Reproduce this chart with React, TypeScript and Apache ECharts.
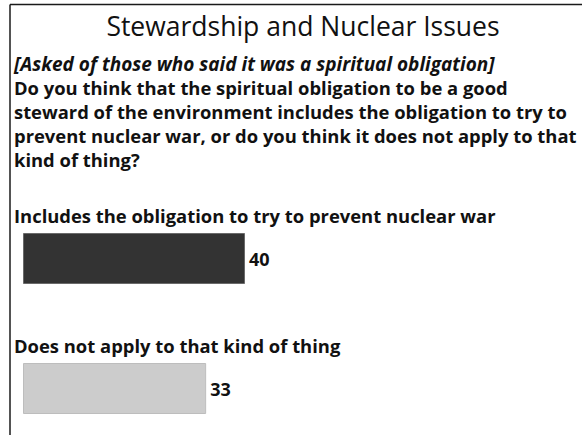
import React, { useEffect, useRef } from "react";
import * as echarts from "echarts";

const categories = [
  "Includes the obligation to try to prevent nuclear war",
  "Does not apply to that kind of thing",
];
const values = [40, 33];
const barColors = ["#333333", "#cccccc"];
const barBorders = ["#6a6a6a", "#bdbdbd"];

const titleText = "Stewardship and Nuclear Issues";
const noteText = "[Asked of those who said it was a spiritual obligation]";
const questionLines = [
  "Do you think that the spiritual obligation to be a good",
  "steward of the environment includes the obligation to try to",
  "prevent nuclear war, or do you think it does not apply to that",
  "kind of thing?",
];

const FONT = "'Open Sans', Lato, sans-serif";
const BODY = 18.4;

export default function App() {
  const ref = useRef<HTMLDivElement>(null);
  useEffect(() => {
    if (!ref.current) return;
    const chart = echarts.init(ref.current, null, { renderer: "svg" });
    chart.setOption({
      animation: false,
      backgroundColor: "#ffffff",
      title: {
        text: titleText,
        left: 298,
        top: 7,
        textAlign: "center",
        textStyle: {
          fontFamily: FONT,
          fontSize: 26.5,
          fontWeight: 500,
          color: "#111111",
        },
      },
      graphic: [
        {
          type: "line",
          shape: { x1: 10, y1: 4.5, x2: 582, y2: 4.5 },
          style: { stroke: "#1a1a1a", lineWidth: 1.5 },
        },
        {
          type: "line",
          shape: { x1: 10, y1: 4.5, x2: 10, y2: 435 },
          style: { stroke: "#1a1a1a", lineWidth: 1.5 },
        },
        {
          type: "text",
          x: 14,
          y: 71 - 0.39 * 19,
          style: {
            text: noteText,
            fontFamily: FONT,
            fontSize: 19,
            fontStyle: "italic",
            fontWeight: "bold",
            fill: "#111111",
            verticalAlign: "middle",
          },
        },
        ...questionLines.map((line, i) => ({
          type: "text",
          x: 14,
          y: 95 + i * 24 - 0.39 * BODY,
          style: {
            text: line,
            fontFamily: FONT,
            fontSize: BODY,
            fontWeight: "bold",
            fill: "#111111",
            verticalAlign: "middle",
          },
        })),
      ],
      grid: {
        left: 23,
        top: 258.5,
        width: 555,
        height: 130,
        containLabel: false,
        outerBoundsMode: "none",
      },
      xAxis: { type: "value", min: 0, max: 100, show: false },
      yAxis: {
        type: "category",
        data: categories,
        inverse: true,
        boundaryGap: false,
        axisLine: { show: false },
        axisTick: { show: false },
        splitLine: { show: false },
        axisLabel: {
          inside: false,
          align: "left",
          margin: 9,
          verticalAlign: "middle",
          formatter: (v: string) => `{a|${v}}\n{gap| }`,
          rich: {
            a: {
              fontFamily: FONT,
              fontSize: BODY,
              fontWeight: "bold",
              color: "#111111",
              lineHeight: 24,
            },
            gap: { fontSize: 2, lineHeight: 86, height: 86 },
          },
        },
      },
      series: [
        {
          type: "bar",
          barWidth: 51,
          data: values.map((v, i) => ({
            value: v,
            itemStyle: {
              color: barColors[i],
              borderColor: barBorders[i],
              borderWidth: 1,
            },
          })),
          label: {
            show: true,
            position: "right",
            distance: 4,
            fontFamily: FONT,
            fontSize: 18,
            fontWeight: "bold",
            color: "#111111",
          },
        },
      ],
    });
    return () => chart.dispose();
  }, []);
  return (
    <div
      ref={ref}
      style={{ position: "fixed", left: 0, top: 0, width: 582, height: 435 }}
    />
  );
}
